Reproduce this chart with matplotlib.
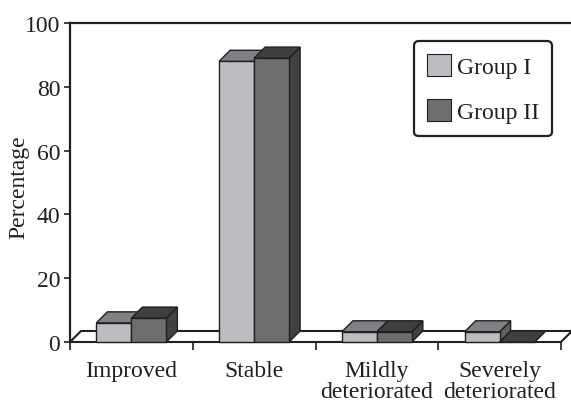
import matplotlib
matplotlib.use("Agg")
import matplotlib.pyplot as plt
from matplotlib.patches import Polygon, Patch

plt.rcParams['font.family'] = ['Liberation Serif', 'DejaVu Serif']

categories = ['Improved', 'Stable', 'Mildly\ndeteriorated', 'Severely\ndeteriorated']
group1 = [6.0, 88.0, 3.2, 3.2]
group2 = [7.5, 89.0, 3.2, 0.0]
series_names = ['Group I', 'Group II']
yticks = [0, 20, 40, 60, 80, 100]

# colours: front, top, side
col_g1 = ('#bcbdc0', '#808184', '#5f6062')
col_g2 = ('#6d6e70', '#3f3f41', '#414143')
edge = '#231f20'

W, H = 571, 402
fig = plt.figure(figsize=(W / 100, H / 100), dpi=100)
ax_l, ax_r, ax_b, ax_t = 70, 571, 343, 24
ax = fig.add_axes([ax_l / W, (H - ax_b) / H, (ax_r - ax_l) / W, (ax_b - ax_t) / H])

cat_px = 122.75
xmax = (ax_r - ax_l) / cat_px
ax.set_xlim(0, xmax)
ax.set_ylim(0, 100)

# depth of the fake 3d effect, in pixels -> data units
depth_px = 11
dx = depth_px / cat_px
dy = depth_px / ((ax_b - ax_t) / 100)

n = len(categories)

# floor
floor = Polygon([(0, 0), (n, 0), (n + dx, dy), (dx, dy)], closed=True,
                facecolor='white', edgecolor=edge, lw=1.5, clip_on=False, zorder=1)
ax.add_patch(floor)

bw = 0.285
off = 0.5 - bw


def bar3d(x0, h, cols):
    front = Polygon([(x0, 0), (x0 + bw, 0), (x0 + bw, h), (x0, h)], closed=True,
                    facecolor=cols[0], edgecolor=edge, lw=1.0, clip_on=False, zorder=3)
    top = Polygon([(x0, h), (x0 + dx, h + dy), (x0 + bw + dx, h + dy), (x0 + bw, h)], closed=True,
                  facecolor=cols[1], edgecolor=edge, lw=1.0, clip_on=False, zorder=3)
    side = Polygon([(x0 + bw, 0), (x0 + bw + dx, dy), (x0 + bw + dx, h + dy), (x0 + bw, h)], closed=True,
                   facecolor=cols[2], edgecolor=edge, lw=1.0, clip_on=False, zorder=3)
    for p in (side, front, top):
        ax.add_patch(p)


for i in range(n):
    bar3d(i + off, group1[i], col_g1)
    bar3d(i + 0.5, group2[i], col_g2)

# axes styling
for s in ['right', 'bottom']:
    ax.spines[s].set_visible(False)
ax.spines['top'].set_linewidth(1.6)
ax.spines['left'].set_linewidth(1.6)
ax.spines['top'].set_color(edge)
ax.spines['left'].set_color(edge)

ax.set_yticks(yticks)
ax.tick_params(axis='y', length=4, width=1.2, pad=3, labelsize=17, colors=edge)
ax.set_xticks(range(n + 1))
ax.set_xticklabels([])
ax.tick_params(axis='x', length=6, width=1.2, direction='out', colors=edge)

for i, lab in enumerate(categories):
    ax.annotate(lab, xy=(i + 0.5, 0), xycoords=('data', 'axes fraction'),
                xytext=(0, -13), textcoords='offset points',
                ha='center', va='top', fontsize=17, linespacing=1.0, color=edge)

ax.set_ylabel('Percentage', fontsize=17, color=edge)
ax.yaxis.set_label_coords(-0.082, 0.49)

handles = [Patch(facecolor=col_g1[0], edgecolor=edge, lw=0.8),
           Patch(facecolor=col_g2[0], edgecolor=edge, lw=0.8)]
leg = ax.legend(handles, series_names, loc='upper right',
                bbox_to_anchor=(552 / W, (H - 42) / H), bbox_transform=fig.transFigure,
                fontsize=17, handlelength=1.0, handleheight=1.05, handletextpad=0.25,
                labelspacing=0.9, borderpad=0.55, borderaxespad=0, fancybox=True,
                framealpha=1)
leg.get_frame().set_edgecolor(edge)
leg.get_frame().set_linewidth(1.6)
for t in leg.get_texts():
    t.set_color(edge)

fig.savefig('out.png', dpi=100)
